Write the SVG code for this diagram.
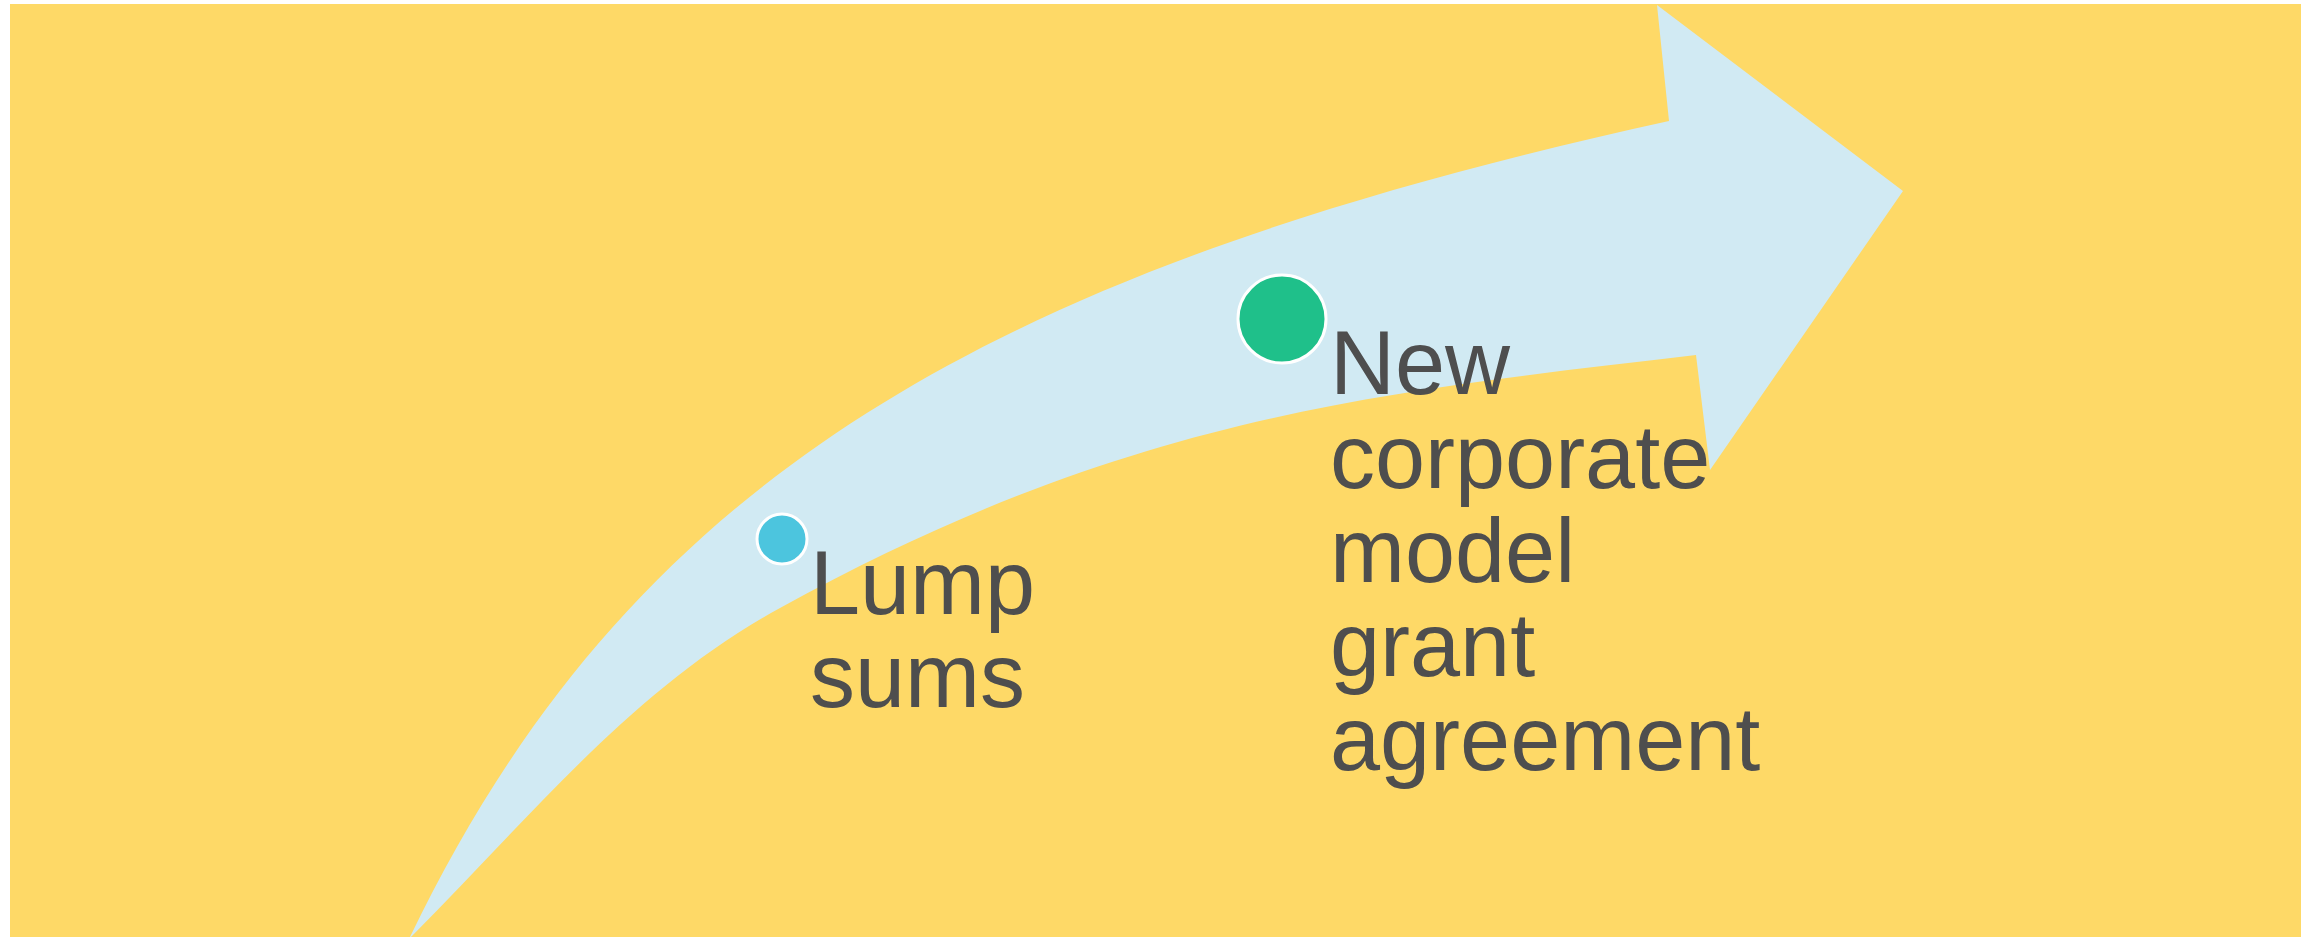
<svg xmlns="http://www.w3.org/2000/svg" width="2316" height="937" viewBox="0 0 2316 937">
  <style>
    .lbl { font-family: "Liberation Sans", Arial, sans-serif; font-size: 90px; fill: #4e4e4e; }
    .dot { stroke: #ffffff; stroke-width: 3; }
  </style>
  <rect x="0" y="0" width="2316" height="937" fill="#ffffff"/>
  <rect x="10" y="4" width="2291" height="933" fill="#fed967"/>
  <g id="connectors">
    <path id="arrow" fill="#d1eaf3" d="M410,937 C630,480 985,271 1669,121 L1657,5 L1903,191 L1710,470 L1696,355 C1378,392.4 1130.4,415.2 780,608 C631.1,689.9 531.2,816.8 411,937 Z"/>
  </g>
  <g id="node-lump-sums">
    <circle class="dot" cx="782" cy="539" r="25" fill="#4cc5de"/>
    <text class="lbl" x="810" y="614">Lump</text>
    <text class="lbl" x="810" y="707">sums</text>
  </g>
  <g id="node-new-corporate">
    <circle class="dot" cx="1282" cy="319" r="44" fill="#1fc08a"/>
    <text class="lbl" x="1330" y="394">New</text>
    <text class="lbl" x="1330" y="488">corporate</text>
    <text class="lbl" x="1330" y="582">model</text>
    <text class="lbl" x="1330" y="676">grant</text>
    <text class="lbl" x="1330" y="770">agreement</text>
  </g>
</svg>
